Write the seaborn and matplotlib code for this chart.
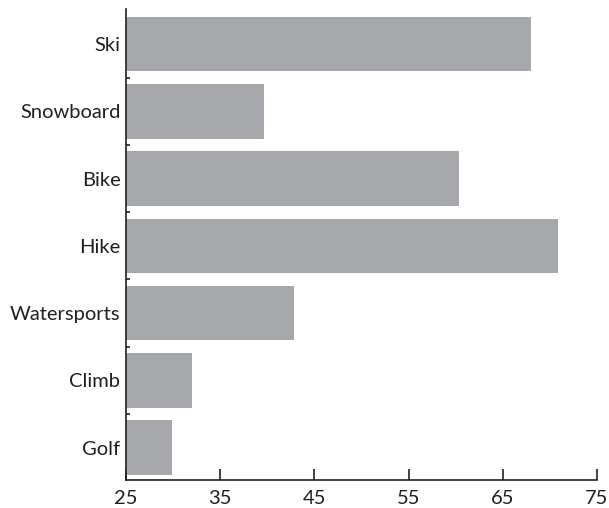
import matplotlib
matplotlib.use("Agg")
import matplotlib.pyplot as plt
import seaborn as sns
import numpy as np

categories = ["Ski", "Snowboard", "Bike", "Hike", "Watersports", "Climb", "Golf"]
values = [68.0, 39.7, 60.4, 70.85, 42.8, 32.0, 29.9]
xticks = [25, 35, 45, 55, 65, 75]

sns.set_theme(style="white")
plt.rcParams['font.family'] = ['Lato', 'DejaVu Sans']

fig = plt.figure(figsize=(6.09, 5.08), dpi=100)
ax = fig.add_axes([126/609, 28/508, (597-126)/609, (480-9)/508])

sns.barplot(x=values, y=categories, orient="h", color="#a7a8ab", saturation=1,
            width=0.81, ax=ax, edgecolor="none")

ax.set_xlim(25, 75)
ax.set_ylim(6.48, -0.52)
ax.set_xticks(xticks)
ax.set_xticklabels([str(t) for t in xticks], fontsize=14.5, color="#231f20")
ax.set_yticks(range(len(categories)))
ax.set_yticklabels(categories, fontsize=14.5, color="#231f20")
ax.set_xlabel("")
ax.set_ylabel("")

for s in ["top", "right"]:
    ax.spines[s].set_visible(False)
for s in ["left", "bottom"]:
    ax.spines[s].set_color("#231f20")
    ax.spines[s].set_linewidth(1.2)

ax.tick_params(axis="x", direction="in", length=8, width=1.2, color="#231f20", pad=7, bottom=True)
ax.tick_params(axis="y", which="major", length=0, pad=4)
ax.set_yticks(np.arange(0.5, 6.0, 1.0), minor=True)
ax.tick_params(axis="y", which="minor", direction="in", length=3, width=1.2, color="#231f20", left=True)

fig.savefig("out.png", dpi=100)
